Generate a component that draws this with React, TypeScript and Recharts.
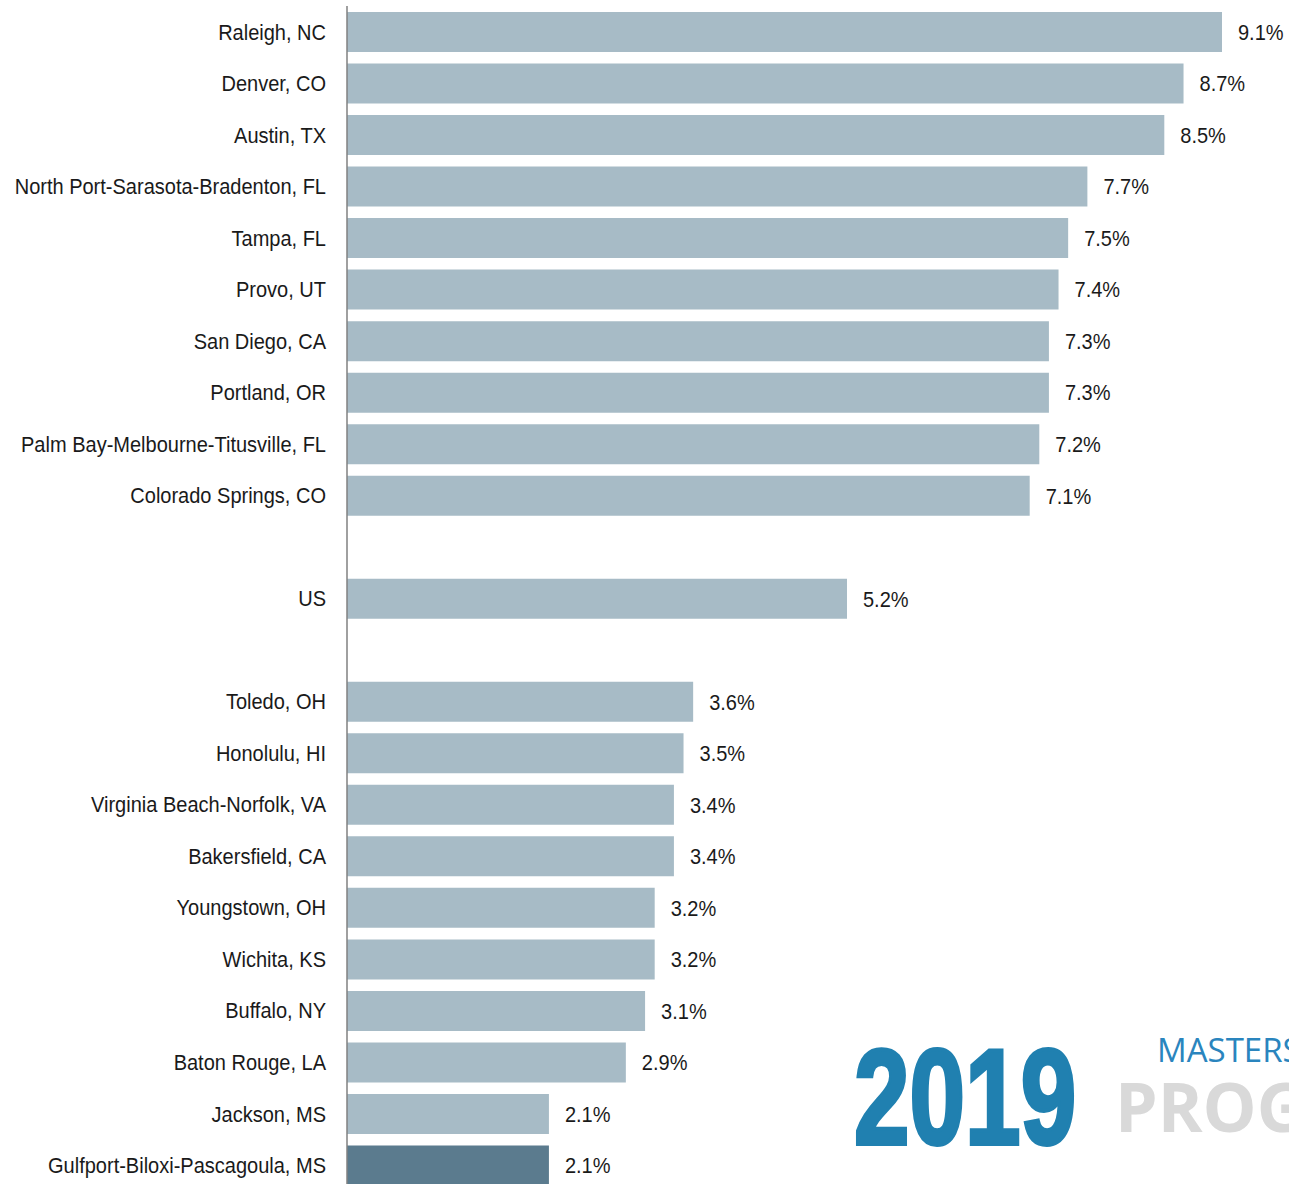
import React from "react";
import { BarChart, Bar, XAxis, YAxis, Cell, LabelList } from "recharts";

const categories = [
  "Raleigh, NC",
  "Denver, CO",
  "Austin, TX",
  "North Port-Sarasota-Bradenton, FL",
  "Tampa, FL",
  "Provo, UT",
  "San Diego, CA",
  "Portland, OR",
  "Palm Bay-Melbourne-Titusville, FL",
  "Colorado Springs, CO",
  " ",
  "US",
  "  ",
  "Toledo, OH",
  "Honolulu, HI",
  "Virginia Beach-Norfolk, VA",
  "Bakersfield, CA",
  "Youngstown, OH",
  "Wichita, KS",
  "Buffalo, NY",
  "Baton Rouge, LA",
  "Jackson, MS",
  "Gulfport-Biloxi-Pascagoula, MS",
];

const values: (number | null)[] = [
  9.1, 8.7, 8.5, 7.7, 7.5, 7.4, 7.3, 7.3, 7.2, 7.1,
  null,
  5.2,
  null,
  3.6, 3.5, 3.4, 3.4, 3.2, 3.2, 3.1, 2.9, 2.1, 2.1,
];

const highlighted = ["Gulfport-Biloxi-Pascagoula, MS"];

const watermarkYear = "2019";
const watermarkLine1 = "MASTERS";
const watermarkLine2 = "PROGRAM";

const data = categories.map((name, i) => ({ name, value: values[i] }));

const LABEL_FONT = "'Liberation Sans', Arial, sans-serif";
const FONT_SIZE = 22;
const SQUEEZE = 0.91;

const CategoryTick = (props: any) => {
  const { x, y, payload } = props;
  return (
    <g transform={`translate(${x},${y}) scale(${SQUEEZE},1)`}>
      <text
        x={0}
        y={0}
        dy="0.355em"
        textAnchor="end"
        fontFamily={LABEL_FONT}
        fontSize={FONT_SIZE}
        fill="#1a1a1a"
      >
        {payload.value}
      </text>
    </g>
  );
};

const ValueLabel = (props: any) => {
  const { x, y, width, height, value } = props;
  if (value == null) return null;
  const tx = Number(x) + Number(width) + 16;
  const ty = Number(y) + Number(height) / 2;
  return (
    <g transform={`translate(${tx},${ty}) scale(${SQUEEZE},1)`}>
      <text
        x={0}
        y={0}
        dy="0.355em"
        textAnchor="start"
        fontFamily={LABEL_FONT}
        fontSize={FONT_SIZE}
        fill="#1a1a1a"
      >
        {`${Number(value).toFixed(1)}%`}
      </text>
    </g>
  );
};

export default function App() {
  return (
    <div
      style={{
        position: "absolute",
        left: 0,
        top: 0,
        width: 1289,
        height: 1184,
        overflow: "hidden",
        background: "#ffffff",
      }}
    >
      <BarChart
        width={1289}
        height={1191}
        data={data}
        layout="vertical"
        margin={{ top: 6, right: 67, bottom: 0, left: 0 }}
        barCategoryGap={6}
      >
        <XAxis type="number" domain={[0, 9.1]} hide />
        <YAxis
          type="category"
          dataKey="name"
          width={347}
          tickLine={false}
          tickSize={0}
          tickMargin={21}
          interval={0}
          axisLine={{ stroke: "#808080", strokeWidth: 1.5 }}
          tick={<CategoryTick />}
        />
        <Bar dataKey="value" isAnimationActive={false}>
          {data.map((d) => (
            <Cell
              key={d.name}
              fill={highlighted.includes(d.name) ? "#5B7B8E" : "#A7BBC6"}
            />
          ))}
          <LabelList dataKey="value" content={<ValueLabel />} />
        </Bar>
      </BarChart>
      <svg
        width={1289}
        height={1184}
        style={{ position: "absolute", left: 0, top: 0, pointerEvents: "none" }}
      >
        <g transform="translate(854,1144) scale(0.74,1)">
          <text
            x={0}
            y={0}
            fontFamily="'Liberation Sans', Arial, sans-serif"
            fontWeight={700}
            fontSize={135}
            fill="#2080B0"
            stroke="#2080B0"
            strokeWidth={4}
          >
            {watermarkYear}
          </text>
        </g>
        <text
          x={1157}
          y={1062}
          fontFamily="'Open Sans', sans-serif"
          fontSize={33}
          fill="#2A85BE"
        >
          {watermarkLine1}
        </text>
        <text
          x={1115}
          y={1132}
          fontFamily="'Open Sans', sans-serif"
          fontWeight={700}
          fontSize={68}
          fill="#D9D9D9"
        >
          {watermarkLine2}
        </text>
      </svg>
    </div>
  );
}
